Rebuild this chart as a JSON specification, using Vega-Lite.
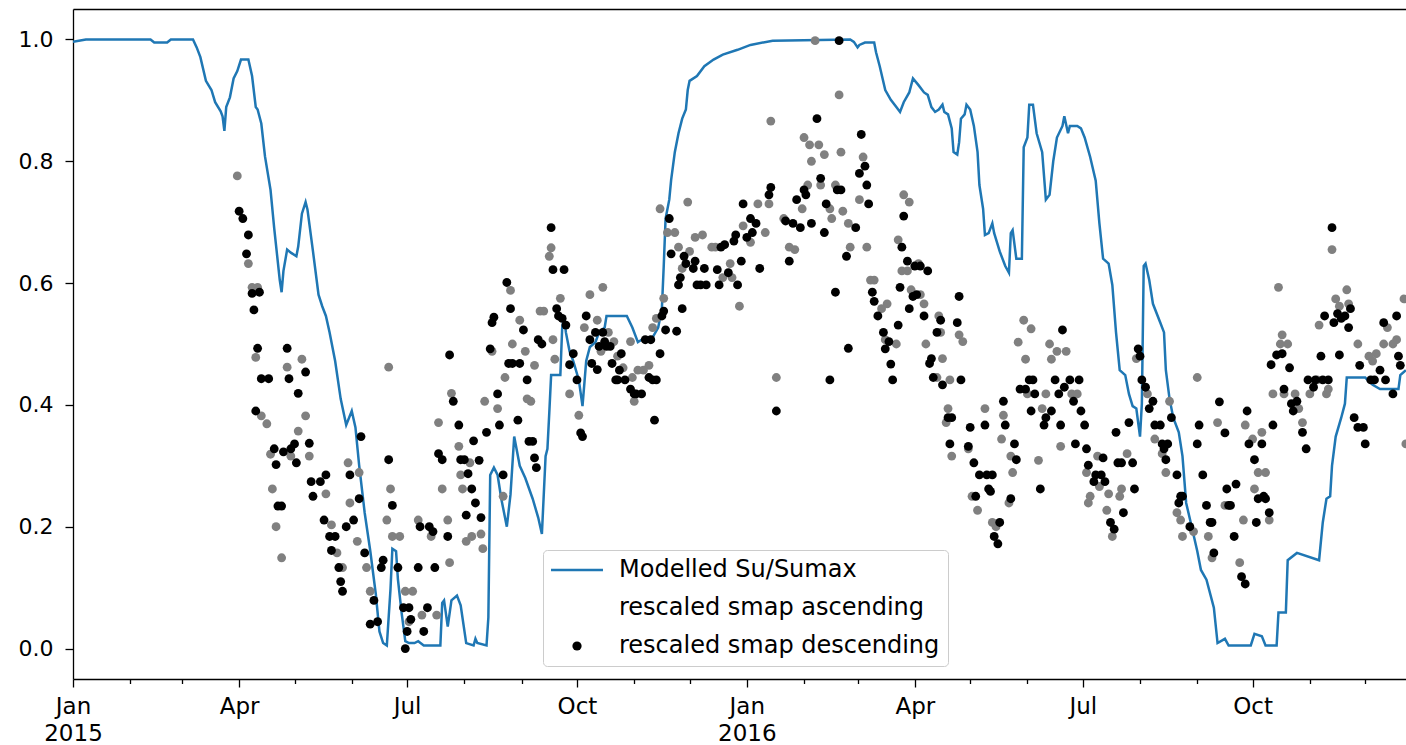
{
  "$schema": "https://vega.github.io/schema/vega-lite/v6.json",
  "width": 1333,
  "height": 670,
  "autosize": "none",
  "padding": {"left": 73, "top": 9, "right": 0, "bottom": 66},
  "background": "white",
  "config": {
    "view": {"stroke": null},
    "font": "DejaVu Sans",
    "axis": {
      "domainColor": "black",
      "domainWidth": 1.3,
      "tickColor": "black",
      "tickWidth": 1.3,
      "labelColor": "black",
      "labelFont": "DejaVu Sans",
      "labelFontSize": 23,
      "grid": false,
      "title": null
    }
  },
  "datasets": {
    "su": [
      {"date": "2015-01-01", "value": 0.996}, {"date": "2015-01-08", "value": 1.0}, {"date": "2015-02-12", "value": 1.0},
      {"date": "2015-02-14", "value": 0.995}, {"date": "2015-02-21", "value": 0.995}, {"date": "2015-02-23", "value": 1.0},
      {"date": "2015-03-07", "value": 1.0}, {"date": "2015-03-09", "value": 0.987}, {"date": "2015-03-11", "value": 0.971},
      {"date": "2015-03-14", "value": 0.932}, {"date": "2015-03-17", "value": 0.917}, {"date": "2015-03-19", "value": 0.897},
      {"date": "2015-03-22", "value": 0.882}, {"date": "2015-03-23", "value": 0.874}, {"date": "2015-03-24", "value": 0.85},
      {"date": "2015-03-25", "value": 0.889}, {"date": "2015-03-27", "value": 0.905}, {"date": "2015-03-29", "value": 0.936},
      {"date": "2015-03-31", "value": 0.948}, {"date": "2015-04-02", "value": 0.967}, {"date": "2015-04-06", "value": 0.967},
      {"date": "2015-04-08", "value": 0.94}, {"date": "2015-04-10", "value": 0.889}, {"date": "2015-04-11", "value": 0.885},
      {"date": "2015-04-13", "value": 0.862}, {"date": "2015-04-15", "value": 0.808}, {"date": "2015-04-18", "value": 0.753},
      {"date": "2015-04-20", "value": 0.69}, {"date": "2015-04-23", "value": 0.605}, {"date": "2015-04-24", "value": 0.585},
      {"date": "2015-04-25", "value": 0.62}, {"date": "2015-04-27", "value": 0.655}, {"date": "2015-04-29", "value": 0.65},
      {"date": "2015-05-02", "value": 0.644}, {"date": "2015-05-03", "value": 0.66}, {"date": "2015-05-05", "value": 0.714},
      {"date": "2015-05-07", "value": 0.733}, {"date": "2015-05-08", "value": 0.721}, {"date": "2015-05-11", "value": 0.652},
      {"date": "2015-05-14", "value": 0.581}, {"date": "2015-05-16", "value": 0.562}, {"date": "2015-05-18", "value": 0.546},
      {"date": "2015-05-20", "value": 0.519}, {"date": "2015-05-23", "value": 0.472}, {"date": "2015-05-26", "value": 0.41},
      {"date": "2015-05-29", "value": 0.367}, {"date": "2015-06-01", "value": 0.39}, {"date": "2015-06-03", "value": 0.363},
      {"date": "2015-06-05", "value": 0.301}, {"date": "2015-06-08", "value": 0.223}, {"date": "2015-06-11", "value": 0.161},
      {"date": "2015-06-14", "value": 0.09}, {"date": "2015-06-16", "value": 0.028}, {"date": "2015-06-18", "value": 0.009},
      {"date": "2015-06-20", "value": 0.005}, {"date": "2015-06-22", "value": 0.098}, {"date": "2015-06-23", "value": 0.164},
      {"date": "2015-06-25", "value": 0.16}, {"date": "2015-06-26", "value": 0.114}, {"date": "2015-06-28", "value": 0.059},
      {"date": "2015-06-30", "value": 0.012}, {"date": "2015-07-02", "value": 0.009}, {"date": "2015-07-05", "value": 0.009},
      {"date": "2015-07-07", "value": 0.012}, {"date": "2015-07-10", "value": 0.005}, {"date": "2015-07-19", "value": 0.005},
      {"date": "2015-07-20", "value": 0.075}, {"date": "2015-07-21", "value": 0.079}, {"date": "2015-07-23", "value": 0.036},
      {"date": "2015-07-25", "value": 0.079}, {"date": "2015-07-28", "value": 0.087}, {"date": "2015-07-30", "value": 0.071},
      {"date": "2015-08-02", "value": 0.009}, {"date": "2015-08-06", "value": 0.005}, {"date": "2015-08-07", "value": 0.016},
      {"date": "2015-08-08", "value": 0.009}, {"date": "2015-08-13", "value": 0.005}, {"date": "2015-08-14", "value": 0.051},
      {"date": "2015-08-15", "value": 0.285}, {"date": "2015-08-17", "value": 0.297}, {"date": "2015-08-19", "value": 0.285},
      {"date": "2015-08-21", "value": 0.246}, {"date": "2015-08-24", "value": 0.2}, {"date": "2015-08-26", "value": 0.253},
      {"date": "2015-08-28", "value": 0.348}, {"date": "2015-08-31", "value": 0.3}, {"date": "2015-09-03", "value": 0.28},
      {"date": "2015-09-07", "value": 0.246}, {"date": "2015-09-10", "value": 0.215}, {"date": "2015-09-12", "value": 0.188},
      {"date": "2015-09-14", "value": 0.316}, {"date": "2015-09-15", "value": 0.328}, {"date": "2015-09-16", "value": 0.387},
      {"date": "2015-09-17", "value": 0.449}, {"date": "2015-09-22", "value": 0.449}, {"date": "2015-09-23", "value": 0.527},
      {"date": "2015-09-24", "value": 0.546}, {"date": "2015-09-25", "value": 0.519}, {"date": "2015-09-27", "value": 0.488},
      {"date": "2015-09-29", "value": 0.472}, {"date": "2015-10-02", "value": 0.441}, {"date": "2015-10-04", "value": 0.398},
      {"date": "2015-10-06", "value": 0.472}, {"date": "2015-10-08", "value": 0.495}, {"date": "2015-10-11", "value": 0.503},
      {"date": "2015-10-13", "value": 0.519}, {"date": "2015-10-16", "value": 0.527}, {"date": "2015-10-17", "value": 0.546},
      {"date": "2015-10-28", "value": 0.546}, {"date": "2015-10-31", "value": 0.527}, {"date": "2015-11-03", "value": 0.503},
      {"date": "2015-11-07", "value": 0.511}, {"date": "2015-11-11", "value": 0.511}, {"date": "2015-11-14", "value": 0.527},
      {"date": "2015-11-16", "value": 0.558}, {"date": "2015-11-17", "value": 0.628}, {"date": "2015-11-18", "value": 0.706},
      {"date": "2015-11-20", "value": 0.737}, {"date": "2015-11-21", "value": 0.769}, {"date": "2015-11-22", "value": 0.792},
      {"date": "2015-11-23", "value": 0.815}, {"date": "2015-11-25", "value": 0.846}, {"date": "2015-11-27", "value": 0.87},
      {"date": "2015-11-29", "value": 0.885}, {"date": "2015-11-30", "value": 0.917}, {"date": "2015-12-01", "value": 0.932},
      {"date": "2015-12-05", "value": 0.94}, {"date": "2015-12-09", "value": 0.956}, {"date": "2015-12-14", "value": 0.967},
      {"date": "2015-12-19", "value": 0.975}, {"date": "2015-12-27", "value": 0.983}, {"date": "2016-01-03", "value": 0.991},
      {"date": "2016-01-15", "value": 0.998}, {"date": "2016-02-26", "value": 1.0}, {"date": "2016-02-28", "value": 0.996},
      {"date": "2016-03-01", "value": 0.987}, {"date": "2016-03-02", "value": 0.991}, {"date": "2016-03-05", "value": 0.995},
      {"date": "2016-03-10", "value": 0.995}, {"date": "2016-03-11", "value": 0.979}, {"date": "2016-03-13", "value": 0.956},
      {"date": "2016-03-16", "value": 0.917}, {"date": "2016-03-19", "value": 0.901}, {"date": "2016-03-22", "value": 0.889},
      {"date": "2016-03-24", "value": 0.881}, {"date": "2016-03-26", "value": 0.897}, {"date": "2016-03-29", "value": 0.913},
      {"date": "2016-03-31", "value": 0.936}, {"date": "2016-04-03", "value": 0.925}, {"date": "2016-04-06", "value": 0.913},
      {"date": "2016-04-08", "value": 0.909}, {"date": "2016-04-10", "value": 0.889}, {"date": "2016-04-12", "value": 0.881},
      {"date": "2016-04-14", "value": 0.885}, {"date": "2016-04-16", "value": 0.893}, {"date": "2016-04-17", "value": 0.881},
      {"date": "2016-04-19", "value": 0.877}, {"date": "2016-04-21", "value": 0.854}, {"date": "2016-04-22", "value": 0.815},
      {"date": "2016-04-24", "value": 0.811}, {"date": "2016-04-25", "value": 0.831}, {"date": "2016-04-26", "value": 0.87},
      {"date": "2016-04-28", "value": 0.877}, {"date": "2016-04-29", "value": 0.893}, {"date": "2016-05-01", "value": 0.885},
      {"date": "2016-05-03", "value": 0.858}, {"date": "2016-05-05", "value": 0.815}, {"date": "2016-05-06", "value": 0.761},
      {"date": "2016-05-08", "value": 0.722}, {"date": "2016-05-09", "value": 0.679}, {"date": "2016-05-11", "value": 0.682},
      {"date": "2016-05-13", "value": 0.698}, {"date": "2016-05-14", "value": 0.682}, {"date": "2016-05-17", "value": 0.652},
      {"date": "2016-05-20", "value": 0.628}, {"date": "2016-05-22", "value": 0.617}, {"date": "2016-05-23", "value": 0.682},
      {"date": "2016-05-24", "value": 0.687}, {"date": "2016-05-26", "value": 0.64}, {"date": "2016-05-29", "value": 0.64},
      {"date": "2016-05-30", "value": 0.823}, {"date": "2016-06-01", "value": 0.839}, {"date": "2016-06-02", "value": 0.893},
      {"date": "2016-06-04", "value": 0.893}, {"date": "2016-06-06", "value": 0.846}, {"date": "2016-06-09", "value": 0.815},
      {"date": "2016-06-11", "value": 0.737}, {"date": "2016-06-13", "value": 0.745}, {"date": "2016-06-15", "value": 0.8},
      {"date": "2016-06-17", "value": 0.839}, {"date": "2016-06-20", "value": 0.858}, {"date": "2016-06-21", "value": 0.874},
      {"date": "2016-06-23", "value": 0.846}, {"date": "2016-06-24", "value": 0.858}, {"date": "2016-06-28", "value": 0.858},
      {"date": "2016-06-30", "value": 0.854}, {"date": "2016-07-02", "value": 0.839}, {"date": "2016-07-05", "value": 0.807},
      {"date": "2016-07-08", "value": 0.768}, {"date": "2016-07-10", "value": 0.698}, {"date": "2016-07-12", "value": 0.64},
      {"date": "2016-07-15", "value": 0.632}, {"date": "2016-07-17", "value": 0.597}, {"date": "2016-07-19", "value": 0.519},
      {"date": "2016-07-21", "value": 0.457}, {"date": "2016-07-24", "value": 0.449}, {"date": "2016-07-26", "value": 0.418},
      {"date": "2016-07-28", "value": 0.398}, {"date": "2016-07-30", "value": 0.394}, {"date": "2016-08-01", "value": 0.348},
      {"date": "2016-08-02", "value": 0.402}, {"date": "2016-08-03", "value": 0.628}, {"date": "2016-08-04", "value": 0.632},
      {"date": "2016-08-06", "value": 0.605}, {"date": "2016-08-08", "value": 0.566}, {"date": "2016-08-12", "value": 0.535},
      {"date": "2016-08-14", "value": 0.519}, {"date": "2016-08-15", "value": 0.457}, {"date": "2016-08-17", "value": 0.41},
      {"date": "2016-08-19", "value": 0.379}, {"date": "2016-08-22", "value": 0.355}, {"date": "2016-08-24", "value": 0.316},
      {"date": "2016-08-26", "value": 0.239}, {"date": "2016-08-29", "value": 0.2}, {"date": "2016-09-01", "value": 0.16},
      {"date": "2016-09-03", "value": 0.129}, {"date": "2016-09-06", "value": 0.113}, {"date": "2016-09-10", "value": 0.067},
      {"date": "2016-09-12", "value": 0.009}, {"date": "2016-09-16", "value": 0.016}, {"date": "2016-09-18", "value": 0.005},
      {"date": "2016-09-30", "value": 0.005}, {"date": "2016-10-02", "value": 0.024}, {"date": "2016-10-06", "value": 0.02},
      {"date": "2016-10-08", "value": 0.005}, {"date": "2016-10-14", "value": 0.005}, {"date": "2016-10-15", "value": 0.059},
      {"date": "2016-10-19", "value": 0.059}, {"date": "2016-10-20", "value": 0.145}, {"date": "2016-10-25", "value": 0.157},
      {"date": "2016-11-06", "value": 0.145}, {"date": "2016-11-08", "value": 0.207}, {"date": "2016-11-10", "value": 0.246},
      {"date": "2016-11-12", "value": 0.25}, {"date": "2016-11-13", "value": 0.3}, {"date": "2016-11-15", "value": 0.348},
      {"date": "2016-11-18", "value": 0.379}, {"date": "2016-11-20", "value": 0.402}, {"date": "2016-11-21", "value": 0.445},
      {"date": "2016-12-01", "value": 0.445}, {"date": "2016-12-05", "value": 0.433}, {"date": "2016-12-09", "value": 0.426},
      {"date": "2016-12-19", "value": 0.426}, {"date": "2016-12-20", "value": 0.449}, {"date": "2016-12-23", "value": 0.457}
    ],
    "asc": [
      {"date": "2015-03-31", "value": 0.776}, {"date": "2015-04-06", "value": 0.632}, {"date": "2015-04-08", "value": 0.593},
      {"date": "2015-04-10", "value": 0.478}, {"date": "2015-04-11", "value": 0.593}, {"date": "2015-04-13", "value": 0.382},
      {"date": "2015-04-16", "value": 0.369}, {"date": "2015-04-18", "value": 0.319}, {"date": "2015-04-19", "value": 0.262},
      {"date": "2015-04-21", "value": 0.2}, {"date": "2015-04-24", "value": 0.149}, {"date": "2015-04-27", "value": 0.462},
      {"date": "2015-04-29", "value": 0.316}, {"date": "2015-05-03", "value": 0.357}, {"date": "2015-05-05", "value": 0.475},
      {"date": "2015-05-07", "value": 0.382}, {"date": "2015-05-09", "value": 0.316}, {"date": "2015-05-18", "value": 0.254},
      {"date": "2015-05-21", "value": 0.203}, {"date": "2015-05-24", "value": 0.157}, {"date": "2015-05-27", "value": 0.133},
      {"date": "2015-05-30", "value": 0.305}, {"date": "2015-05-31", "value": 0.239}, {"date": "2015-06-04", "value": 0.176},
      {"date": "2015-06-05", "value": 0.289}, {"date": "2015-06-09", "value": 0.133}, {"date": "2015-06-11", "value": 0.094},
      {"date": "2015-06-20", "value": 0.211}, {"date": "2015-06-21", "value": 0.462}, {"date": "2015-06-22", "value": 0.262},
      {"date": "2015-06-23", "value": 0.184}, {"date": "2015-06-27", "value": 0.184}, {"date": "2015-06-30", "value": 0.094},
      {"date": "2015-07-02", "value": 0.044}, {"date": "2015-07-04", "value": 0.094}, {"date": "2015-07-07", "value": 0.211},
      {"date": "2015-07-09", "value": 0.055}, {"date": "2015-07-14", "value": 0.184}, {"date": "2015-07-17", "value": 0.055},
      {"date": "2015-07-18", "value": 0.371}, {"date": "2015-07-20", "value": 0.262}, {"date": "2015-07-23", "value": 0.211},
      {"date": "2015-07-24", "value": 0.141}, {"date": "2015-07-25", "value": 0.419}, {"date": "2015-07-29", "value": 0.332},
      {"date": "2015-07-30", "value": 0.285}, {"date": "2015-07-31", "value": 0.262}, {"date": "2015-08-02", "value": 0.176},
      {"date": "2015-08-04", "value": 0.305}, {"date": "2015-08-05", "value": 0.184}, {"date": "2015-08-10", "value": 0.188},
      {"date": "2015-08-11", "value": 0.164}, {"date": "2015-08-12", "value": 0.406}, {"date": "2015-08-16", "value": 0.488},
      {"date": "2015-08-19", "value": 0.394}, {"date": "2015-08-22", "value": 0.25}, {"date": "2015-08-23", "value": 0.445},
      {"date": "2015-08-26", "value": 0.588}, {"date": "2015-08-27", "value": 0.5}, {"date": "2015-08-31", "value": 0.539},
      {"date": "2015-09-03", "value": 0.488}, {"date": "2015-09-04", "value": 0.41}, {"date": "2015-09-06", "value": 0.406},
      {"date": "2015-09-08", "value": 0.465}, {"date": "2015-09-11", "value": 0.554}, {"date": "2015-09-13", "value": 0.554},
      {"date": "2015-09-16", "value": 0.644}, {"date": "2015-09-17", "value": 0.658}, {"date": "2015-09-18", "value": 0.507},
      {"date": "2015-09-19", "value": 0.475}, {"date": "2015-09-22", "value": 0.575}, {"date": "2015-09-27", "value": 0.418},
      {"date": "2015-10-02", "value": 0.383}, {"date": "2015-10-05", "value": 0.527}, {"date": "2015-10-08", "value": 0.581},
      {"date": "2015-10-12", "value": 0.539}, {"date": "2015-10-14", "value": 0.488}, {"date": "2015-10-15", "value": 0.593},
      {"date": "2015-10-18", "value": 0.519}, {"date": "2015-10-21", "value": 0.504}, {"date": "2015-10-23", "value": 0.48},
      {"date": "2015-10-26", "value": 0.461}, {"date": "2015-10-30", "value": 0.504}, {"date": "2015-10-31", "value": 0.445},
      {"date": "2015-11-01", "value": 0.406}, {"date": "2015-11-03", "value": 0.457}, {"date": "2015-11-06", "value": 0.457},
      {"date": "2015-11-09", "value": 0.465}, {"date": "2015-11-11", "value": 0.527}, {"date": "2015-11-13", "value": 0.542},
      {"date": "2015-11-15", "value": 0.722}, {"date": "2015-11-17", "value": 0.575}, {"date": "2015-11-19", "value": 0.683},
      {"date": "2015-11-23", "value": 0.683}, {"date": "2015-11-25", "value": 0.659}, {"date": "2015-11-27", "value": 0.624},
      {"date": "2015-11-30", "value": 0.733}, {"date": "2015-12-01", "value": 0.652}, {"date": "2015-12-04", "value": 0.675},
      {"date": "2015-12-08", "value": 0.679}, {"date": "2015-12-13", "value": 0.659}, {"date": "2015-12-15", "value": 0.659},
      {"date": "2015-12-19", "value": 0.609}, {"date": "2015-12-23", "value": 0.632}, {"date": "2015-12-24", "value": 0.609},
      {"date": "2015-12-28", "value": 0.562}, {"date": "2015-12-30", "value": 0.694}, {"date": "2016-01-03", "value": 0.667},
      {"date": "2016-01-07", "value": 0.73}, {"date": "2016-01-11", "value": 0.683}, {"date": "2016-01-13", "value": 0.73},
      {"date": "2016-01-14", "value": 0.866}, {"date": "2016-01-17", "value": 0.445}, {"date": "2016-01-21", "value": 0.706},
      {"date": "2016-01-24", "value": 0.659}, {"date": "2016-01-27", "value": 0.655}, {"date": "2016-01-31", "value": 0.722},
      {"date": "2016-02-01", "value": 0.839}, {"date": "2016-02-03", "value": 0.761}, {"date": "2016-02-04", "value": 0.827},
      {"date": "2016-02-05", "value": 0.8}, {"date": "2016-02-07", "value": 0.998}, {"date": "2016-02-09", "value": 0.827},
      {"date": "2016-02-10", "value": 0.761}, {"date": "2016-02-12", "value": 0.811}, {"date": "2016-02-15", "value": 0.722},
      {"date": "2016-02-16", "value": 0.706}, {"date": "2016-02-18", "value": 0.761}, {"date": "2016-02-20", "value": 0.909},
      {"date": "2016-02-21", "value": 0.815}, {"date": "2016-02-22", "value": 0.718}, {"date": "2016-02-25", "value": 0.698},
      {"date": "2016-02-26", "value": 0.659}, {"date": "2016-03-02", "value": 0.737}, {"date": "2016-03-04", "value": 0.807},
      {"date": "2016-03-06", "value": 0.659}, {"date": "2016-03-08", "value": 0.605}, {"date": "2016-03-10", "value": 0.605},
      {"date": "2016-03-14", "value": 0.558}, {"date": "2016-03-16", "value": 0.507}, {"date": "2016-03-17", "value": 0.566},
      {"date": "2016-03-22", "value": 0.5}, {"date": "2016-03-23", "value": 0.671}, {"date": "2016-03-25", "value": 0.62},
      {"date": "2016-03-26", "value": 0.745}, {"date": "2016-03-28", "value": 0.62}, {"date": "2016-03-29", "value": 0.733},
      {"date": "2016-03-30", "value": 0.589}, {"date": "2016-04-03", "value": 0.632}, {"date": "2016-04-04", "value": 0.581},
      {"date": "2016-04-06", "value": 0.566}, {"date": "2016-04-07", "value": 0.5}, {"date": "2016-04-13", "value": 0.445},
      {"date": "2016-04-14", "value": 0.546}, {"date": "2016-04-15", "value": 0.519}, {"date": "2016-04-16", "value": 0.476},
      {"date": "2016-04-18", "value": 0.371}, {"date": "2016-04-19", "value": 0.394}, {"date": "2016-04-20", "value": 0.441},
      {"date": "2016-04-21", "value": 0.316}, {"date": "2016-04-25", "value": 0.515}, {"date": "2016-04-27", "value": 0.504},
      {"date": "2016-04-30", "value": 0.328}, {"date": "2016-05-02", "value": 0.25}, {"date": "2016-05-05", "value": 0.227},
      {"date": "2016-05-09", "value": 0.394}, {"date": "2016-05-13", "value": 0.207}, {"date": "2016-05-15", "value": 0.2},
      {"date": "2016-05-18", "value": 0.344}, {"date": "2016-05-19", "value": 0.383}, {"date": "2016-05-22", "value": 0.239},
      {"date": "2016-05-23", "value": 0.316}, {"date": "2016-05-24", "value": 0.289}, {"date": "2016-05-27", "value": 0.503},
      {"date": "2016-05-30", "value": 0.539}, {"date": "2016-05-31", "value": 0.475}, {"date": "2016-06-01", "value": 0.418},
      {"date": "2016-06-03", "value": 0.525}, {"date": "2016-06-07", "value": 0.309}, {"date": "2016-06-09", "value": 0.394},
      {"date": "2016-06-11", "value": 0.418}, {"date": "2016-06-13", "value": 0.5}, {"date": "2016-06-14", "value": 0.475},
      {"date": "2016-06-17", "value": 0.488}, {"date": "2016-06-19", "value": 0.332}, {"date": "2016-06-22", "value": 0.488},
      {"date": "2016-06-25", "value": 0.418}, {"date": "2016-06-28", "value": 0.418}, {"date": "2016-07-03", "value": 0.289},
      {"date": "2016-07-04", "value": 0.239}, {"date": "2016-07-05", "value": 0.25}, {"date": "2016-07-09", "value": 0.316},
      {"date": "2016-07-10", "value": 0.266}, {"date": "2016-07-14", "value": 0.227}, {"date": "2016-07-15", "value": 0.254},
      {"date": "2016-07-17", "value": 0.184}, {"date": "2016-07-21", "value": 0.25}, {"date": "2016-07-22", "value": 0.262},
      {"date": "2016-07-25", "value": 0.32}, {"date": "2016-07-30", "value": 0.476}, {"date": "2016-08-05", "value": 0.418},
      {"date": "2016-08-09", "value": 0.344}, {"date": "2016-08-13", "value": 0.32}, {"date": "2016-08-15", "value": 0.289},
      {"date": "2016-08-17", "value": 0.406}, {"date": "2016-08-21", "value": 0.223}, {"date": "2016-08-23", "value": 0.211},
      {"date": "2016-08-24", "value": 0.184}, {"date": "2016-08-30", "value": 0.192}, {"date": "2016-09-01", "value": 0.445},
      {"date": "2016-09-07", "value": 0.184}, {"date": "2016-09-09", "value": 0.149}, {"date": "2016-09-12", "value": 0.371},
      {"date": "2016-09-16", "value": 0.235}, {"date": "2016-09-24", "value": 0.141}, {"date": "2016-09-26", "value": 0.211},
      {"date": "2016-09-27", "value": 0.367}, {"date": "2016-10-01", "value": 0.344}, {"date": "2016-10-02", "value": 0.262},
      {"date": "2016-10-04", "value": 0.289}, {"date": "2016-10-06", "value": 0.355}, {"date": "2016-10-08", "value": 0.289},
      {"date": "2016-10-10", "value": 0.211}, {"date": "2016-10-12", "value": 0.418}, {"date": "2016-10-15", "value": 0.593},
      {"date": "2016-10-16", "value": 0.5}, {"date": "2016-10-17", "value": 0.515}, {"date": "2016-10-18", "value": 0.418},
      {"date": "2016-10-20", "value": 0.5}, {"date": "2016-10-24", "value": 0.418}, {"date": "2016-10-26", "value": 0.394},
      {"date": "2016-10-28", "value": 0.371}, {"date": "2016-11-01", "value": 0.418}, {"date": "2016-11-05", "value": 0.441},
      {"date": "2016-11-06", "value": 0.531}, {"date": "2016-11-10", "value": 0.418}, {"date": "2016-11-11", "value": 0.426},
      {"date": "2016-11-13", "value": 0.655}, {"date": "2016-11-15", "value": 0.574}, {"date": "2016-11-17", "value": 0.562},
      {"date": "2016-11-21", "value": 0.589}, {"date": "2016-11-22", "value": 0.566}, {"date": "2016-11-27", "value": 0.5},
      {"date": "2016-12-03", "value": 0.48}, {"date": "2016-12-05", "value": 0.472}, {"date": "2016-12-07", "value": 0.484},
      {"date": "2016-12-11", "value": 0.5}, {"date": "2016-12-13", "value": 0.527}, {"date": "2016-12-16", "value": 0.5},
      {"date": "2016-12-18", "value": 0.507}, {"date": "2016-12-22", "value": 0.574}, {"date": "2016-12-23", "value": 0.336}
    ],
    "desc": [
      {"date": "2015-04-01", "value": 0.718}, {"date": "2015-04-03", "value": 0.706}, {"date": "2015-04-05", "value": 0.648},
      {"date": "2015-04-06", "value": 0.679}, {"date": "2015-04-08", "value": 0.583}, {"date": "2015-04-09", "value": 0.556},
      {"date": "2015-04-10", "value": 0.39}, {"date": "2015-04-11", "value": 0.493}, {"date": "2015-04-12", "value": 0.585},
      {"date": "2015-04-13", "value": 0.443}, {"date": "2015-04-17", "value": 0.443}, {"date": "2015-04-20", "value": 0.328},
      {"date": "2015-04-21", "value": 0.302}, {"date": "2015-04-22", "value": 0.234}, {"date": "2015-04-24", "value": 0.234},
      {"date": "2015-04-25", "value": 0.323}, {"date": "2015-04-27", "value": 0.493}, {"date": "2015-04-28", "value": 0.443},
      {"date": "2015-04-29", "value": 0.328}, {"date": "2015-05-01", "value": 0.336}, {"date": "2015-05-02", "value": 0.305},
      {"date": "2015-05-03", "value": 0.419}, {"date": "2015-05-07", "value": 0.454}, {"date": "2015-05-09", "value": 0.337},
      {"date": "2015-05-10", "value": 0.274}, {"date": "2015-05-11", "value": 0.25}, {"date": "2015-05-15", "value": 0.274},
      {"date": "2015-05-17", "value": 0.211}, {"date": "2015-05-18", "value": 0.285}, {"date": "2015-05-20", "value": 0.184},
      {"date": "2015-05-21", "value": 0.161}, {"date": "2015-05-23", "value": 0.184}, {"date": "2015-05-25", "value": 0.133},
      {"date": "2015-05-26", "value": 0.11}, {"date": "2015-05-27", "value": 0.094}, {"date": "2015-05-29", "value": 0.2},
      {"date": "2015-05-31", "value": 0.285}, {"date": "2015-06-02", "value": 0.211}, {"date": "2015-06-05", "value": 0.246},
      {"date": "2015-06-06", "value": 0.348}, {"date": "2015-06-08", "value": 0.157}, {"date": "2015-06-11", "value": 0.04},
      {"date": "2015-06-13", "value": 0.079}, {"date": "2015-06-15", "value": 0.044}, {"date": "2015-06-17", "value": 0.133},
      {"date": "2015-06-18", "value": 0.145}, {"date": "2015-06-21", "value": 0.31}, {"date": "2015-06-23", "value": 0.235},
      {"date": "2015-06-26", "value": 0.133}, {"date": "2015-06-29", "value": 0.067}, {"date": "2015-06-30", "value": 0.0},
      {"date": "2015-07-01", "value": 0.028}, {"date": "2015-07-02", "value": 0.067}, {"date": "2015-07-03", "value": 0.048},
      {"date": "2015-07-07", "value": 0.133}, {"date": "2015-07-08", "value": 0.2}, {"date": "2015-07-10", "value": 0.028},
      {"date": "2015-07-12", "value": 0.067}, {"date": "2015-07-13", "value": 0.2}, {"date": "2015-07-15", "value": 0.192},
      {"date": "2015-07-16", "value": 0.133}, {"date": "2015-07-18", "value": 0.32}, {"date": "2015-07-20", "value": 0.31},
      {"date": "2015-07-23", "value": 0.184}, {"date": "2015-07-24", "value": 0.482}, {"date": "2015-07-26", "value": 0.406},
      {"date": "2015-07-29", "value": 0.367}, {"date": "2015-07-30", "value": 0.31}, {"date": "2015-08-01", "value": 0.31},
      {"date": "2015-08-02", "value": 0.219}, {"date": "2015-08-03", "value": 0.287}, {"date": "2015-08-05", "value": 0.262},
      {"date": "2015-08-06", "value": 0.341}, {"date": "2015-08-07", "value": 0.239}, {"date": "2015-08-09", "value": 0.309},
      {"date": "2015-08-10", "value": 0.215}, {"date": "2015-08-13", "value": 0.355}, {"date": "2015-08-15", "value": 0.492},
      {"date": "2015-08-16", "value": 0.535}, {"date": "2015-08-17", "value": 0.544}, {"date": "2015-08-19", "value": 0.418},
      {"date": "2015-08-20", "value": 0.367}, {"date": "2015-08-22", "value": 0.285}, {"date": "2015-08-24", "value": 0.601},
      {"date": "2015-08-25", "value": 0.468}, {"date": "2015-08-26", "value": 0.558}, {"date": "2015-08-27", "value": 0.468},
      {"date": "2015-08-30", "value": 0.375}, {"date": "2015-08-31", "value": 0.468}, {"date": "2015-09-02", "value": 0.523},
      {"date": "2015-09-04", "value": 0.441}, {"date": "2015-09-05", "value": 0.34}, {"date": "2015-09-07", "value": 0.34},
      {"date": "2015-09-08", "value": 0.313}, {"date": "2015-09-09", "value": 0.297}, {"date": "2015-09-10", "value": 0.507},
      {"date": "2015-09-12", "value": 0.5}, {"date": "2015-09-17", "value": 0.691}, {"date": "2015-09-18", "value": 0.622},
      {"date": "2015-09-20", "value": 0.558}, {"date": "2015-09-21", "value": 0.546}, {"date": "2015-09-23", "value": 0.542},
      {"date": "2015-09-24", "value": 0.622}, {"date": "2015-09-25", "value": 0.531}, {"date": "2015-09-27", "value": 0.466},
      {"date": "2015-09-29", "value": 0.484}, {"date": "2015-10-01", "value": 0.441}, {"date": "2015-10-03", "value": 0.354},
      {"date": "2015-10-04", "value": 0.348}, {"date": "2015-10-06", "value": 0.546}, {"date": "2015-10-08", "value": 0.507},
      {"date": "2015-10-09", "value": 0.468}, {"date": "2015-10-11", "value": 0.519}, {"date": "2015-10-12", "value": 0.458},
      {"date": "2015-10-13", "value": 0.496}, {"date": "2015-10-15", "value": 0.519}, {"date": "2015-10-16", "value": 0.504},
      {"date": "2015-10-17", "value": 0.496}, {"date": "2015-10-19", "value": 0.496}, {"date": "2015-10-20", "value": 0.468},
      {"date": "2015-10-22", "value": 0.441}, {"date": "2015-10-23", "value": 0.441}, {"date": "2015-10-24", "value": 0.457},
      {"date": "2015-10-25", "value": 0.484}, {"date": "2015-10-27", "value": 0.441}, {"date": "2015-10-30", "value": 0.426},
      {"date": "2015-11-01", "value": 0.418}, {"date": "2015-11-02", "value": 0.418}, {"date": "2015-11-05", "value": 0.418},
      {"date": "2015-11-07", "value": 0.507}, {"date": "2015-11-09", "value": 0.445}, {"date": "2015-11-10", "value": 0.507},
      {"date": "2015-11-11", "value": 0.441}, {"date": "2015-11-12", "value": 0.375}, {"date": "2015-11-13", "value": 0.441},
      {"date": "2015-11-15", "value": 0.484}, {"date": "2015-11-16", "value": 0.546}, {"date": "2015-11-17", "value": 0.554},
      {"date": "2015-11-18", "value": 0.523}, {"date": "2015-11-20", "value": 0.706}, {"date": "2015-11-21", "value": 0.648},
      {"date": "2015-11-24", "value": 0.521}, {"date": "2015-11-25", "value": 0.597}, {"date": "2015-11-26", "value": 0.609},
      {"date": "2015-11-27", "value": 0.558}, {"date": "2015-11-28", "value": 0.644}, {"date": "2015-11-29", "value": 0.632},
      {"date": "2015-12-03", "value": 0.624}, {"date": "2015-12-04", "value": 0.636}, {"date": "2015-12-05", "value": 0.597},
      {"date": "2015-12-07", "value": 0.597}, {"date": "2015-12-09", "value": 0.624}, {"date": "2015-12-10", "value": 0.597},
      {"date": "2015-12-16", "value": 0.622}, {"date": "2015-12-17", "value": 0.597}, {"date": "2015-12-18", "value": 0.659},
      {"date": "2015-12-20", "value": 0.663}, {"date": "2015-12-22", "value": 0.617}, {"date": "2015-12-25", "value": 0.669},
      {"date": "2015-12-26", "value": 0.679}, {"date": "2015-12-27", "value": 0.597}, {"date": "2015-12-29", "value": 0.636},
      {"date": "2015-12-30", "value": 0.73}, {"date": "2016-01-01", "value": 0.675}, {"date": "2016-01-03", "value": 0.706},
      {"date": "2016-01-04", "value": 0.683}, {"date": "2016-01-06", "value": 0.698}, {"date": "2016-01-08", "value": 0.624},
      {"date": "2016-01-13", "value": 0.745}, {"date": "2016-01-14", "value": 0.757}, {"date": "2016-01-17", "value": 0.39},
      {"date": "2016-01-22", "value": 0.702}, {"date": "2016-01-24", "value": 0.636}, {"date": "2016-01-26", "value": 0.698},
      {"date": "2016-01-28", "value": 0.737}, {"date": "2016-01-30", "value": 0.691}, {"date": "2016-02-01", "value": 0.753},
      {"date": "2016-02-02", "value": 0.745}, {"date": "2016-02-05", "value": 0.698}, {"date": "2016-02-08", "value": 0.87},
      {"date": "2016-02-10", "value": 0.772}, {"date": "2016-02-12", "value": 0.683}, {"date": "2016-02-13", "value": 0.73},
      {"date": "2016-02-15", "value": 0.441}, {"date": "2016-02-18", "value": 0.585}, {"date": "2016-02-19", "value": 0.753},
      {"date": "2016-02-20", "value": 0.998}, {"date": "2016-02-21", "value": 0.753}, {"date": "2016-02-24", "value": 0.644},
      {"date": "2016-02-25", "value": 0.493}, {"date": "2016-02-29", "value": 0.691}, {"date": "2016-03-02", "value": 0.78},
      {"date": "2016-03-03", "value": 0.844}, {"date": "2016-03-05", "value": 0.792}, {"date": "2016-03-06", "value": 0.761},
      {"date": "2016-03-07", "value": 0.73}, {"date": "2016-03-09", "value": 0.585}, {"date": "2016-03-10", "value": 0.57},
      {"date": "2016-03-12", "value": 0.546}, {"date": "2016-03-15", "value": 0.519}, {"date": "2016-03-16", "value": 0.492},
      {"date": "2016-03-18", "value": 0.504}, {"date": "2016-03-19", "value": 0.467}, {"date": "2016-03-20", "value": 0.441},
      {"date": "2016-03-23", "value": 0.531}, {"date": "2016-03-24", "value": 0.593}, {"date": "2016-03-25", "value": 0.659},
      {"date": "2016-03-26", "value": 0.71}, {"date": "2016-03-28", "value": 0.636}, {"date": "2016-03-29", "value": 0.558},
      {"date": "2016-03-31", "value": 0.578}, {"date": "2016-04-01", "value": 0.628}, {"date": "2016-04-02", "value": 0.581},
      {"date": "2016-04-04", "value": 0.628}, {"date": "2016-04-06", "value": 0.546}, {"date": "2016-04-08", "value": 0.62},
      {"date": "2016-04-09", "value": 0.468}, {"date": "2016-04-10", "value": 0.476}, {"date": "2016-04-11", "value": 0.445},
      {"date": "2016-04-13", "value": 0.519}, {"date": "2016-04-15", "value": 0.539}, {"date": "2016-04-16", "value": 0.433},
      {"date": "2016-04-19", "value": 0.379}, {"date": "2016-04-20", "value": 0.336}, {"date": "2016-04-21", "value": 0.379},
      {"date": "2016-04-24", "value": 0.535}, {"date": "2016-04-25", "value": 0.578}, {"date": "2016-04-26", "value": 0.441},
      {"date": "2016-04-30", "value": 0.332}, {"date": "2016-05-01", "value": 0.363}, {"date": "2016-05-03", "value": 0.305},
      {"date": "2016-05-04", "value": 0.25}, {"date": "2016-05-06", "value": 0.285}, {"date": "2016-05-09", "value": 0.367},
      {"date": "2016-05-10", "value": 0.285}, {"date": "2016-05-11", "value": 0.262}, {"date": "2016-05-12", "value": 0.258},
      {"date": "2016-05-13", "value": 0.285}, {"date": "2016-05-14", "value": 0.184}, {"date": "2016-05-16", "value": 0.172},
      {"date": "2016-05-17", "value": 0.207}, {"date": "2016-05-19", "value": 0.406}, {"date": "2016-05-20", "value": 0.367},
      {"date": "2016-05-23", "value": 0.246}, {"date": "2016-05-25", "value": 0.336}, {"date": "2016-05-26", "value": 0.31},
      {"date": "2016-05-28", "value": 0.426}, {"date": "2016-05-31", "value": 0.426}, {"date": "2016-06-02", "value": 0.441},
      {"date": "2016-06-03", "value": 0.39}, {"date": "2016-06-04", "value": 0.441}, {"date": "2016-06-05", "value": 0.418},
      {"date": "2016-06-08", "value": 0.262}, {"date": "2016-06-10", "value": 0.367}, {"date": "2016-06-11", "value": 0.379},
      {"date": "2016-06-14", "value": 0.39}, {"date": "2016-06-16", "value": 0.441}, {"date": "2016-06-18", "value": 0.418},
      {"date": "2016-06-19", "value": 0.367}, {"date": "2016-06-20", "value": 0.523}, {"date": "2016-06-21", "value": 0.429},
      {"date": "2016-06-24", "value": 0.441}, {"date": "2016-06-26", "value": 0.406}, {"date": "2016-06-27", "value": 0.336},
      {"date": "2016-06-29", "value": 0.441}, {"date": "2016-06-30", "value": 0.39}, {"date": "2016-07-02", "value": 0.367},
      {"date": "2016-07-03", "value": 0.328}, {"date": "2016-07-04", "value": 0.301}, {"date": "2016-07-07", "value": 0.274},
      {"date": "2016-07-08", "value": 0.285}, {"date": "2016-07-11", "value": 0.285}, {"date": "2016-07-12", "value": 0.313},
      {"date": "2016-07-13", "value": 0.274}, {"date": "2016-07-16", "value": 0.207}, {"date": "2016-07-18", "value": 0.196},
      {"date": "2016-07-19", "value": 0.355}, {"date": "2016-07-20", "value": 0.305}, {"date": "2016-07-22", "value": 0.305},
      {"date": "2016-07-23", "value": 0.223}, {"date": "2016-07-26", "value": 0.371}, {"date": "2016-07-28", "value": 0.305},
      {"date": "2016-07-29", "value": 0.262}, {"date": "2016-07-31", "value": 0.492}, {"date": "2016-08-01", "value": 0.48},
      {"date": "2016-08-02", "value": 0.441}, {"date": "2016-08-04", "value": 0.429}, {"date": "2016-08-06", "value": 0.394},
      {"date": "2016-08-08", "value": 0.406}, {"date": "2016-08-09", "value": 0.367}, {"date": "2016-08-12", "value": 0.367},
      {"date": "2016-08-13", "value": 0.336}, {"date": "2016-08-14", "value": 0.328}, {"date": "2016-08-15", "value": 0.31},
      {"date": "2016-08-16", "value": 0.336}, {"date": "2016-08-18", "value": 0.379}, {"date": "2016-08-21", "value": 0.285},
      {"date": "2016-08-22", "value": 0.239}, {"date": "2016-08-23", "value": 0.25}, {"date": "2016-08-24", "value": 0.25},
      {"date": "2016-08-28", "value": 0.2}, {"date": "2016-09-01", "value": 0.336}, {"date": "2016-09-02", "value": 0.367},
      {"date": "2016-09-04", "value": 0.285}, {"date": "2016-09-06", "value": 0.235}, {"date": "2016-09-08", "value": 0.207},
      {"date": "2016-09-09", "value": 0.207}, {"date": "2016-09-10", "value": 0.157}, {"date": "2016-09-13", "value": 0.405},
      {"date": "2016-09-16", "value": 0.354}, {"date": "2016-09-17", "value": 0.262}, {"date": "2016-09-18", "value": 0.235},
      {"date": "2016-09-19", "value": 0.235}, {"date": "2016-09-21", "value": 0.184}, {"date": "2016-09-22", "value": 0.27},
      {"date": "2016-09-25", "value": 0.118}, {"date": "2016-09-27", "value": 0.106}, {"date": "2016-09-28", "value": 0.39},
      {"date": "2016-09-29", "value": 0.336}, {"date": "2016-10-02", "value": 0.31}, {"date": "2016-10-03", "value": 0.207},
      {"date": "2016-10-04", "value": 0.246}, {"date": "2016-10-06", "value": 0.336}, {"date": "2016-10-07", "value": 0.25},
      {"date": "2016-10-08", "value": 0.246}, {"date": "2016-10-10", "value": 0.223}, {"date": "2016-10-11", "value": 0.466},
      {"date": "2016-10-12", "value": 0.367}, {"date": "2016-10-14", "value": 0.482}, {"date": "2016-10-17", "value": 0.484},
      {"date": "2016-10-18", "value": 0.426}, {"date": "2016-10-21", "value": 0.461}, {"date": "2016-10-22", "value": 0.402},
      {"date": "2016-10-23", "value": 0.39}, {"date": "2016-10-25", "value": 0.406}, {"date": "2016-10-28", "value": 0.355},
      {"date": "2016-10-30", "value": 0.328}, {"date": "2016-10-31", "value": 0.441}, {"date": "2016-11-03", "value": 0.429},
      {"date": "2016-11-04", "value": 0.441}, {"date": "2016-11-07", "value": 0.48}, {"date": "2016-11-08", "value": 0.441},
      {"date": "2016-11-09", "value": 0.546}, {"date": "2016-11-11", "value": 0.441}, {"date": "2016-11-13", "value": 0.691},
      {"date": "2016-11-14", "value": 0.535}, {"date": "2016-11-16", "value": 0.55}, {"date": "2016-11-17", "value": 0.482},
      {"date": "2016-11-18", "value": 0.542}, {"date": "2016-11-20", "value": 0.546}, {"date": "2016-11-22", "value": 0.527},
      {"date": "2016-11-23", "value": 0.558}, {"date": "2016-11-25", "value": 0.379}, {"date": "2016-11-27", "value": 0.363},
      {"date": "2016-11-28", "value": 0.465}, {"date": "2016-11-30", "value": 0.363}, {"date": "2016-12-01", "value": 0.336},
      {"date": "2016-12-04", "value": 0.441}, {"date": "2016-12-06", "value": 0.441}, {"date": "2016-12-09", "value": 0.457},
      {"date": "2016-12-11", "value": 0.535}, {"date": "2016-12-12", "value": 0.441}, {"date": "2016-12-16", "value": 0.418},
      {"date": "2016-12-18", "value": 0.546}, {"date": "2016-12-19", "value": 0.48}, {"date": "2016-12-20", "value": 0.465}
    ]
  },
  "encoding": {
    "y": {
      "field": "value",
      "type": "quantitative",
      "scale": {"domain": [-0.05, 1.05], "nice": false, "zero": false},
      "axis": {"values": [0, 0.2, 0.4, 0.6, 0.8, 1.0], "format": ".1f", "tickSize": 8, "labelPadding": 12, "labelFontSize": 22}
    }
  },
  "resolve": {"axis": {"x": "independent"}},
  "layer": [
    {
      "data": {"name": "su"},
      "mark": {"type": "line", "color": "#1f77b4", "strokeWidth": 2.5, "clip": true},
      "encoding": {
        "x": {
          "field": "date",
          "type": "temporal",
          "scale": {"type": "utc", "domain": [{"year": 2015, "month": 1, "date": 1, "utc": true}, {"year": 2016, "month": 12, "date": 23, "hours": 2, "utc": true}]},
          "axis": {
            "orient": "bottom",
            "tickCount": {"interval": "month", "step": 1},
            "tickSize": {"condition": {"test": "utcmonth(datum.value) % 3 == 0", "value": 8}, "value": 4.5},
            "labelExpr": "utcmonth(datum.value) % 3 != 0 ? '' : (utcmonth(datum.value) == 0 ? [utcFormat(datum.value, '%b'), utcFormat(datum.value, '%Y')] : utcFormat(datum.value, '%b'))",
            "labelOverlap": false,
            "labelFlush": false,
            "labelBound": false,
            "labelPadding": 8,
            "labelLineHeight": 27,
            "labelBaseline": "top"
          }
        }
      }
    },
    {
      "data": {"name": "asc"},
      "mark": {"type": "circle", "size": 78, "opacity": 1, "clip": true},
      "encoding": {
        "x": {
          "field": "date",
          "type": "temporal",
          "scale": {"type": "utc", "domain": [{"year": 2015, "month": 1, "date": 1, "utc": true}, {"year": 2016, "month": 12, "date": 23, "hours": 2, "utc": true}]},
          "axis": {"orient": "top", "ticks": false, "labels": false, "domain": true}
        },
        "color": {
          "datum": "rescaled smap ascending",
          "scale": {"domain": ["Modelled Su/Sumax", "rescaled smap ascending", "rescaled smap descending"], "range": ["#1f77b4", "grey", "black"]},
          "legend": {
            "orient": "none",
            "legendX": 470,
            "legendY": 541,
            "title": null,
            "direction": "vertical",
            "labelFont": "DejaVu Sans",
            "labelFontSize": 24,
            "labelColor": "black",
            "labelLimit": 0,
            "labelOffset": 16,
            "fillColor": "rgba(255,255,255,0.8)",
            "strokeColor": "#cccccc",
            "cornerRadius": 4,
            "padding": 8,
            "rowPadding": 14,
            "symbolSize": 2700,
            "symbolOpacity": 1,
            "encode": {
              "symbols": {
                "update": {
                  "x": {"value": 26},
                  "shape": {"signal": "datum.value === 'Modelled Su/Sumax' ? 'stroke' : 'circle'"},
                  "size": {"signal": "datum.value === 'Modelled Su/Sumax' ? 2700 : 85"},
                  "stroke": {"signal": "datum.value === 'Modelled Su/Sumax' ? '#1f77b4' : 'transparent'"},
                  "strokeWidth": {"value": 2.5},
                  "opacity": {"signal": "datum.value === 'rescaled smap ascending' ? 0 : 1"}
                }
              },
              "labels": {
                "update": {
                  "x": {"value": 68}
                }
              }
            }
          }
        }
      }
    },
    {
      "data": {"name": "desc"},
      "mark": {"type": "circle", "size": 78, "opacity": 1, "clip": true},
      "encoding": {
        "x": {
          "field": "date",
          "type": "temporal",
          "scale": {"type": "utc", "domain": [{"year": 2015, "month": 1, "date": 1, "utc": true}, {"year": 2016, "month": 12, "date": 23, "hours": 2, "utc": true}]},
          "axis": null
        },
        "color": {
          "datum": "rescaled smap descending",
          "scale": {"domain": ["Modelled Su/Sumax", "rescaled smap ascending", "rescaled smap descending"], "range": ["#1f77b4", "grey", "black"]}
        }
      }
    }
  ]
}
